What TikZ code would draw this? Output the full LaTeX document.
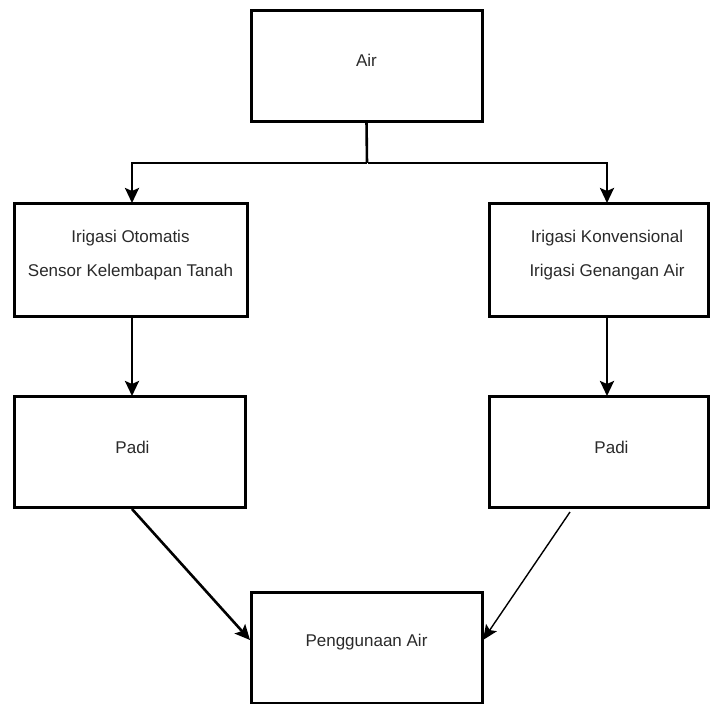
\documentclass[tikz,border=0pt]{standalone}
\usepackage{fontspec}
\setmainfont{Liberation Sans}
\usetikzlibrary{arrows.meta}
\definecolor{txt}{HTML}{2A2A2A}
\begin{document}
\begin{tikzpicture}[x=1pt,y=-1pt,
  box/.style={draw=black,line width=3pt,fill=white,inner sep=0pt,outer sep=0pt},
  lbl/.style={text=txt,font=\fontsize{17}{34}\selectfont,align=center,inner sep=0pt},
  arr/.style={line width=2.6pt,-{Stealth[length=15pt,width=14pt,inset=3pt]}},
  arrthin/.style={line width=1.4pt,-{Stealth[length=15pt,width=13pt,inset=3pt]}}]
\useasboundingbox[fill=white] (0,0) rectangle (710,704);
% boxes
\node[box,minimum width=231pt,minimum height=111pt] (air) at (366.5,65.5) {};
\node[box,minimum width=233pt,minimum height=113pt] (irl) at (130.5,259.5) {};
\node[box,minimum width=219pt,minimum height=113pt] (irr) at (598.5,259.5) {};
\node[box,minimum width=231pt,minimum height=111pt] (padl) at (129.5,451.5) {};
\node[box,minimum width=219pt,minimum height=111pt] (padr) at (598.5,451.5) {};
\node[box,minimum width=231pt,minimum height=111pt] (pen) at (366.5,647.5) {};
% labels
\node[lbl] (tair) at ([yshift=5pt]air.center) {Air};
\node[lbl] (tirl) at ([yshift=4pt]irl.center) {Irigasi Otomatis\\Sensor Kelembapan Tanah};
\node[lbl] (tirr) at ([xshift=8.5pt,yshift=4pt]irr.center) {Irigasi Konvensional\\Irigasi Genangan Air};
\node[lbl] (tpadl) at ([xshift=3pt,yshift=4pt]padl.center) {Padi};
\node[lbl] (tpadr) at ([xshift=13pt,yshift=4pt]padr.center) {Padi};
\node[lbl] (tpen) at ([yshift=5pt]pen.center) {Penggunaan Air};
% connectors
\coordinate (split) at (367,163);
\draw[line width=2.6pt] (air.south) -- (split);
\draw[arr] ([xshift=-0.5pt]split) -| ([xshift=1.5pt]irl.north);
\draw[arr] ([xshift=0.5pt]split) -| ([xshift=8.5pt]irr.north);
\draw[arr] ([xshift=1.5pt]irl.south) -- ([xshift=2.5pt]padl.north);
\draw[arr] ([xshift=8.5pt]irr.south) -- ([xshift=8.5pt]padr.north);
\draw[arr] ([xshift=2.5pt,yshift=-2pt]padl.south) -- ([xshift=-1pt,yshift=7.5pt]pen.west);
\draw[arrthin] ([xshift=-28.5pt,yshift=-5pt]padr.south) -- ([xshift=1pt,yshift=7.5pt]pen.east);
\end{tikzpicture}
\end{document}
